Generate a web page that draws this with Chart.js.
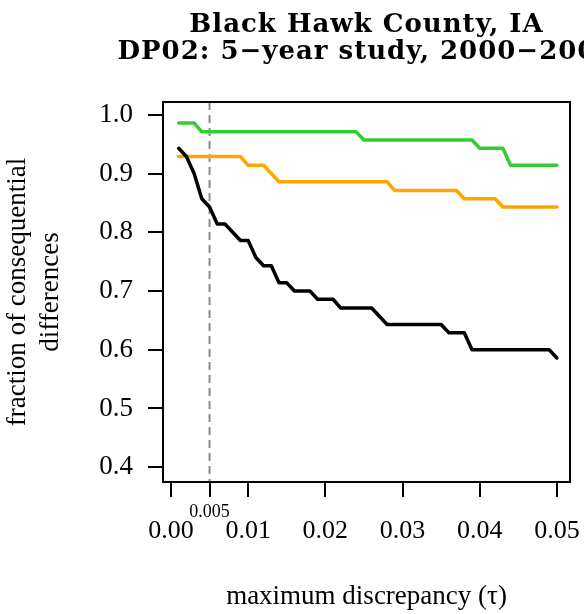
<!DOCTYPE html>
<html lang="en">
<head>
<meta charset="UTF-8">
<title>Black Hawk County, IA - DP02</title>
<script src="https://cdn.jsdelivr.net/npm/chart.js"></script>
<style>
  body { margin: 0; background: #fff; }
  .box { width: 584px; height: 614px; }
</style>
</head>
<body>
<div class="box"><canvas id="grafico"></canvas></div>
<script>
// maximum discrepancy (tau) values
const tau = [0.001, 0.002, 0.003, 0.004, 0.005, 0.006, 0.007, 0.008, 0.009, 0.010,
             0.011, 0.012, 0.013, 0.014, 0.015, 0.016, 0.017, 0.018, 0.019, 0.020,
             0.021, 0.022, 0.023, 0.024, 0.025, 0.026, 0.027, 0.028, 0.029, 0.030,
             0.031, 0.032, 0.033, 0.034, 0.035, 0.036, 0.037, 0.038, 0.039, 0.040,
             0.041, 0.042, 0.043, 0.044, 0.045, 0.046, 0.047, 0.048, 0.049, 0.050];

// fraction of consequential differences
const serieVerde = [0.986, 0.986, 0.986, 0.971, 0.971, 0.971, 0.971, 0.971, 0.971, 0.971,
                    0.971, 0.971, 0.971, 0.971, 0.971, 0.971, 0.971, 0.971, 0.971, 0.971,
                    0.971, 0.971, 0.971, 0.971, 0.957, 0.957, 0.957, 0.957, 0.957, 0.957,
                    0.957, 0.957, 0.957, 0.957, 0.957, 0.957, 0.957, 0.957, 0.957, 0.943,
                    0.943, 0.943, 0.943, 0.914, 0.914, 0.914, 0.914, 0.914, 0.914, 0.914];
const serieLaranja = [0.929, 0.929, 0.929, 0.929, 0.929, 0.929, 0.929, 0.929, 0.929, 0.914,
                      0.914, 0.914, 0.900, 0.886, 0.886, 0.886, 0.886, 0.886, 0.886, 0.886,
                      0.886, 0.886, 0.886, 0.886, 0.886, 0.886, 0.886, 0.886, 0.871, 0.871,
                      0.871, 0.871, 0.871, 0.871, 0.871, 0.871, 0.871, 0.857, 0.857, 0.857,
                      0.857, 0.857, 0.843, 0.843, 0.843, 0.843, 0.843, 0.843, 0.843, 0.843];
const seriePreta = [0.943, 0.929, 0.900, 0.857, 0.843, 0.814, 0.814, 0.800, 0.786, 0.786,
                    0.757, 0.743, 0.743, 0.714, 0.714, 0.700, 0.700, 0.700, 0.686, 0.686,
                    0.686, 0.671, 0.671, 0.671, 0.671, 0.671, 0.657, 0.643, 0.643, 0.643,
                    0.643, 0.643, 0.643, 0.643, 0.643, 0.629, 0.629, 0.629, 0.600, 0.600,
                    0.600, 0.600, 0.600, 0.600, 0.600, 0.600, 0.600, 0.600, 0.600, 0.586];

const limiar = 0.005;

const xTicks = [0, 0.005, 0.01, 0.02, 0.03, 0.04, 0.05];
const xLabels = ['0.00', '0.005', '0.01', '0.02', '0.03', '0.04', '0.05'];
const yTicks = [0.4, 0.5, 0.6, 0.7, 0.8, 0.9, 1.0];
const yLabels = ['0.4', '0.5', '0.6', '0.7', '0.8', '0.9', '1.0'];

const titulo = ['Black Hawk County, IA', 'DP02: 5\u2212year study, 2000\u22122005'];

const serif = '"Liberation Serif", serif';

function pontos(valores) {
    return tau.map(function (t, i) { return { x: t, y: valores[i] }; });
}

// moldura, linha tracejada e titulo
const extras = {
    id: 'extras',
    beforeDatasetsDraw(chart) {
        const ctx = chart.ctx;
        const a = chart.chartArea;
        const px = chart.scales.x.getPixelForValue(limiar);
        ctx.save();
        ctx.strokeStyle = '#8c8c8c';
        ctx.lineWidth = 2;
        ctx.setLineDash([8, 5]);
        ctx.beginPath();
        ctx.moveTo(px, a.top);
        ctx.lineTo(px, a.bottom);
        ctx.stroke();
        ctx.restore();
    },
    afterDraw(chart) {
        const ctx = chart.ctx;
        const a = chart.chartArea;
        ctx.save();
        ctx.strokeStyle = '#000';
        ctx.lineWidth = 2;
        ctx.strokeRect(a.left, a.top, a.right - a.left, a.bottom - a.top);
        ctx.fillStyle = '#000';
        ctx.font = 'bold 26px "DejaVu Serif", serif';
        ctx.letterSpacing = '1px';
        ctx.textAlign = 'center';
        ctx.textBaseline = 'alphabetic';
        const cx = (a.left + a.right) / 2;
        ctx.fillText(titulo[0], cx, 32);
        ctx.fillText(titulo[1], cx, 59);
        ctx.restore();
    }
};

const dados = {
    datasets: [
        { label: 'preta', data: pontos(seriePreta), borderColor: '#000000' },
        { label: 'laranja', data: pontos(serieLaranja), borderColor: '#ffa500' },
        { label: 'verde', data: pontos(serieVerde), borderColor: '#33cc33' }
    ]
};

const config = {
    type: 'line',
    data: dados,
    options: {
        responsive: true,
        maintainAspectRatio: false,
        animation: false,
        layout: { padding: { top: 102, right: 11, left: 0, bottom: 0 } },
        elements: {
            line: { borderWidth: 3.5, tension: 0, fill: false, borderCapStyle: 'round', borderJoinStyle: 'round' },
            point: { radius: 0 }
        },
        plugins: { legend: { display: false }, tooltip: { enabled: false } },
        scales: {
            x: {
                type: 'linear',
                min: -0.00103,
                max: 0.0517,
                afterBuildTicks(scale) { scale.ticks = xTicks.map(v => ({ value: v })); },
                afterFit(scale) { scale.height = 132; },
                grid: { drawOnChartArea: false, drawTicks: true, tickLength: 15, color: '#000', lineWidth: 2 },
                border: { display: false },
                ticks: {
                    color: '#000',
                    padding: 4,
                    maxRotation: 0,
                    autoSkip: false,
                    callback: function (v, i) { return xLabels[i]; },
                    font: function (ctx) {
                        if (ctx.tick && ctx.tick.value === limiar) {
                            return { family: serif, size: 18, lineHeight: '22px' };
                        }
                        return { family: serif, size: 26, lineHeight: '60px' };
                    }
                },
                title: {
                    display: true,
                    text: 'maximum discrepancy (\u03c4)',
                    color: '#000',
                    font: { family: serif, size: 27, lineHeight: 1.2 },
                    padding: { top: 0, bottom: 1 }
                }
            },
            y: {
                min: 0.3748,
                max: 1.0218,
                afterBuildTicks(scale) { scale.ticks = yTicks.map(v => ({ value: v })); },
                afterFit(scale) { scale.width = 163; },
                grid: { drawOnChartArea: false, drawTicks: true, tickLength: 15, color: '#000', lineWidth: 2 },
                border: { display: false },
                ticks: {
                    color: '#000',
                    padding: 15,
                    autoSkip: false,
                    callback: function (v, i) { return yLabels[i]; },
                    font: { family: serif, size: 27 }
                },
                title: {
                    display: true,
                    text: ['fraction of consequential', 'differences'],
                    color: '#000',
                    font: { family: serif, size: 27, lineHeight: '33px' },
                    padding: { top: 1, bottom: 0 }
                }
            }
        }
    },
    plugins: [extras]
};

let grafico = new Chart(document.getElementById('grafico'), config);
</script>
</body>
</html>
